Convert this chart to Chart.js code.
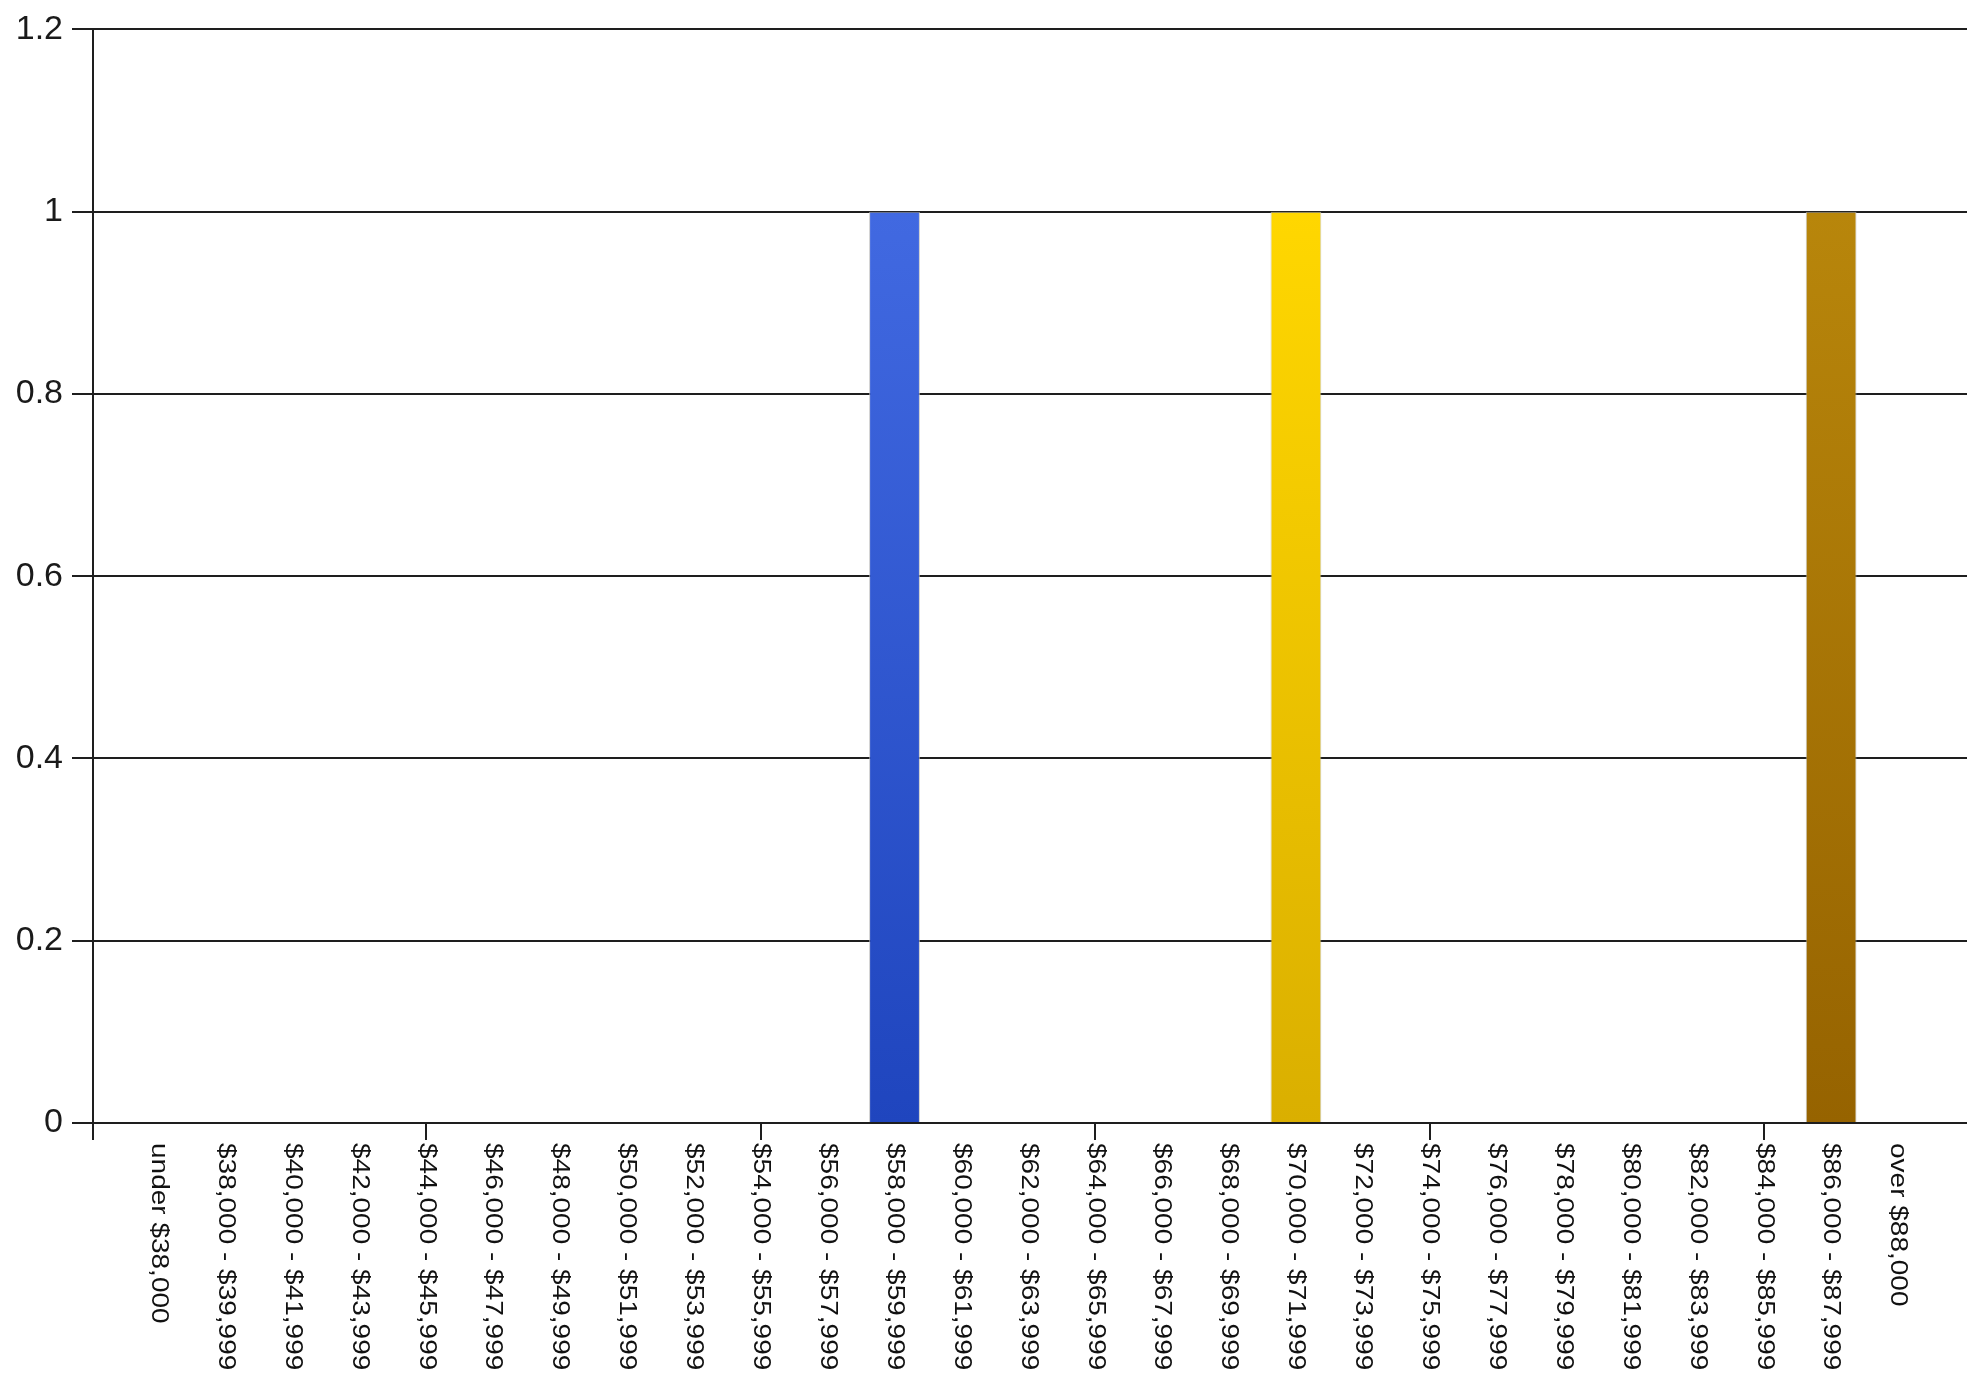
<!DOCTYPE html>
<html>
<head>
<meta charset="utf-8">
<script src="https://cdn.jsdelivr.net/npm/chart.js@4/dist/chart.umd.min.js"></script>
<style>
  html, body { margin: 0; padding: 0; background: #ffffff; }
  #wrap { width: 1967px; height: 1378px; position: relative; }
</style>
</head>
<body>
<div id="wrap"><canvas id="c"></canvas></div>
<script>
// ---- data ----
const categories = [
  "under $38,000",
  "$38,000 - $39,999", "$40,000 - $41,999", "$42,000 - $43,999", "$44,000 - $45,999",
  "$46,000 - $47,999", "$48,000 - $49,999", "$50,000 - $51,999", "$52,000 - $53,999",
  "$54,000 - $55,999", "$56,000 - $57,999", "$58,000 - $59,999", "$60,000 - $61,999",
  "$62,000 - $63,999", "$64,000 - $65,999", "$66,000 - $67,999", "$68,000 - $69,999",
  "$70,000 - $71,999", "$72,000 - $73,999", "$74,000 - $75,999", "$76,000 - $77,999",
  "$78,000 - $79,999", "$80,000 - $81,999", "$82,000 - $83,999", "$84,000 - $85,999",
  "$86,000 - $87,999", "over $88,000"
];
const values = [
  0, 0, 0, 0, 0, 0, 0, 0, 0, 0, 0, 1, 0, 0, 0, 0, 0, 1, 0, 0, 0, 0, 0, 0, 0, 1, 0
];
const yTickValues = [0, 0.2, 0.4, 0.6, 0.8, 1, 1.2];
const yTickLabels = ["0", "0.2", "0.4", "0.6", "0.8", "1", "1.2"];

// ---- styles ----
const barPalette = [
  ["#4169E1", "#1F45BE"],
  ["#FFD700", "#DAAF00"],
  ["#B8860B", "#966300"]
];
const axisColor = "#1e1e1e";
const fontFamily = "'Liberation Sans', Arial, sans-serif";

function paletteFor(index) {
  if (!values[index]) return null;
  let n = 0;
  for (let i = 0; i < index; i++) if (values[i]) n++;
  return barPalette[n % barPalette.length];
}

const X_MIN = -0.9806;
const X_MAX = 27.031;

const xLabelPlugin = {
  id: 'xLabelsDown',
  afterDraw(chart) {
    const ctx = chart.ctx;
    const xs = chart.scales.x;
    const top = chart.chartArea.bottom + 20;
    ctx.save();
    ctx.fillStyle = "#111";
    ctx.font = "28px " + fontFamily;
    ctx.textAlign = "left";
    ctx.textBaseline = "middle";
    categories.forEach((lab, i) => {
      const px = xs.getPixelForValue(i);
      ctx.save();
      ctx.translate(px, top);
      ctx.rotate(Math.PI / 2);
      ctx.scale(1, 0.86);
      ctx.fillText(lab, 0, 0);
      ctx.restore();
    });
    ctx.restore();
  }
};

new Chart(document.getElementById('c'), {
  type: 'bar',
  data: {
    datasets: [{
      data: values.map((v, i) => ({ x: i, y: v })),
      backgroundColor: (c) => {
        const pal = paletteFor(c.dataIndex);
        if (!pal) return 'rgba(0,0,0,0)';
        const chart = c.chart;
        if (!chart.chartArea) return pal[0];
        const ys = chart.scales.y;
        const g = chart.ctx.createLinearGradient(0, ys.getPixelForValue(values[c.dataIndex]), 0, ys.getPixelForValue(0));
        g.addColorStop(0, pal[0]);
        g.addColorStop(1, pal[1]);
        return g;
      },
      borderColor: 'rgba(185,185,185,0.75)',
      borderWidth: { top: 1, left: 1, right: 1, bottom: 0 },
      borderSkipped: 'start',
      barPercentage: 0.76,
      categoryPercentage: 1.0
    }]
  },
  options: {
    responsive: true,
    maintainAspectRatio: false,
    animation: false,
    layout: { padding: { top: 26, right: 0, bottom: 238, left: 0 } },
    plugins: { legend: { display: false }, tooltip: { enabled: false }, title: { display: false } },
    scales: {
      x: {
        type: 'linear',
        bounds: 'data',
        offset: false,
        min: X_MIN,
        max: X_MAX,
        afterBuildTicks: (scale) => {
          const t = [{ value: X_MIN }];
          categories.forEach((_, i) => { if (i % 5 === 4) t.push({ value: i }); });
          scale.ticks = t;
        },
        ticks: { display: false },
        grid: {
          display: true,
          offset: false,
          drawOnChartArea: false,
          drawTicks: true,
          tickLength: 17,
          color: axisColor,
          lineWidth: 2
        },
        border: { display: false }
      },
      y: {
        min: 0,
        max: 1.2,
        afterBuildTicks: (scale) => { scale.ticks = yTickValues.map(v => ({ value: v })); },
        afterFit: (scale) => { scale.width = 93; },
        ticks: {
          padding: 9,
          color: "#1a1a1a",
          font: { family: fontFamily, size: 34 },
          callback: (v) => yTickLabels[yTickValues.indexOf(v)] ?? String(v)
        },
        grid: {
          color: axisColor,
          lineWidth: 2,
          drawTicks: true,
          tickLength: 21
        },
        border: { display: true, color: axisColor, width: 2 }
      }
    }
  },
  plugins: [xLabelPlugin]
});
</script>
</body>
</html>
